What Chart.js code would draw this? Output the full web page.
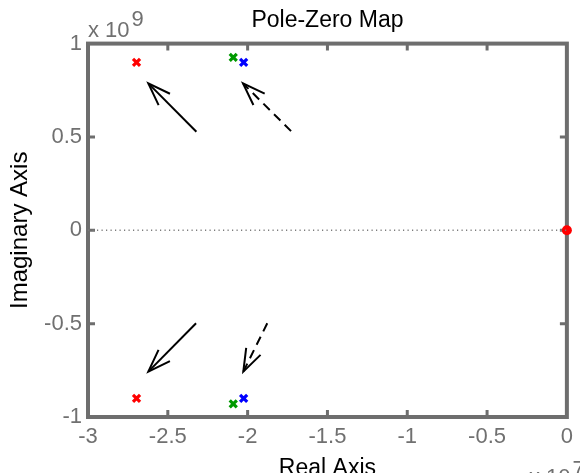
<!DOCTYPE html>
<html>
<head>
<meta charset="utf-8">
<script src="https://cdn.jsdelivr.net/npm/chart.js@4.4.1/dist/chart.umd.min.js"></script>
<style>
  html, body { margin: 0; padding: 0; background: #fff; overflow: hidden; }
  #chart { display: block; }
</style>
</head>
<body>
<canvas id="chart" width="580" height="473"></canvas>
<script>
// axis ticks (real axis in 1e7, imaginary axis in 1e9)
const xTickLabels = ['-3', '-2.5', '-2', '-1.5', '-1', '-0.5', '0'];
const yTickLabels = ['-1', '-0.5', '0', '0.5', '1'];
const xExponent = '7';
const yExponent = '9';

// poles: real and imaginary parts
const redPolesRe = [-2.696e7, -2.696e7];
const redPolesIm = [0.899e9, -0.900e9];
const bluePolesRe = [-2.025e7, -2.025e7];
const bluePolesIm = [0.899e9, -0.900e9];
const greenPolesRe = [-2.090e7, -2.090e7];
const greenPolesIm = [0.926e9, -0.930e9];

// zeros
const zerosRe = [0];
const zerosIm = [0];

// dotted line on the real axis
const realLineRe = [-3e7, 0];
const realLineIm = [0, 0];

// arrows, tail then tip
const arrowUpSolidRe = [-2.321e7, -2.622e7];
const arrowUpSolidIm = [0.528e9, 0.787e9];
const arrowUpDashRe = [-1.728e7, -2.029e7];
const arrowUpDashIm = [0.531e9, 0.787e9];
const arrowDownSolidRe = [-2.323e7, -2.622e7];
const arrowDownSolidIm = [-0.498e9, -0.757e9];
const arrowDownDashRe = [-1.877e7, -2.027e7];
const arrowDownDashIm = [-0.498e9, -0.757e9];

const FONT = 'Liberation Sans, Arial, sans-serif';
const GRAY = '#6e6e6e';
const LABEL_GRAY = '#707070';

function pts(re, im) {
    return re.map(function (x, i) { return {x: x, y: im[i]}; });
}

function poleSet(re, im, color) {
    return {
        data: pts(re, im),
        pointStyle: 'crossRot',
        pointRadius: 5,
        pointBorderWidth: 3.2,
        borderColor: color,
        backgroundColor: color,
        showLine: false,
        clip: false
    };
}

function arrowSet(re, im, dashed) {
    return {
        data: pts(re, im),
        showLine: true,
        pointRadius: 0,
        borderColor: '#000',
        borderWidth: 2,
        borderDash: dashed ? [9, 6] : [],
        arrow: true
    };
}

const framePlugin = {
    id: 'frame',
    beforeDatasetsDraw(chart) {
        const ctx = chart.ctx;
        const a = chart.chartArea;
        const xs = chart.scales.x, ys = chart.scales.y;
        ctx.save();
        ctx.strokeStyle = GRAY;
        ctx.lineWidth = 3;
        ctx.beginPath();
        xs.ticks.forEach(function (t) {
            const px = xs.getPixelForValue(t.value);
            if (px <= a.left + 2 || px >= a.right - 2) return;
            ctx.moveTo(px, a.bottom); ctx.lineTo(px, a.bottom - 7);
            ctx.moveTo(px, a.top); ctx.lineTo(px, a.top + 7);
        });
        ys.ticks.forEach(function (t) {
            const py = ys.getPixelForValue(t.value);
            if (py <= a.top + 2 || py >= a.bottom - 2) return;
            ctx.moveTo(a.left, py); ctx.lineTo(a.left + 7, py);
            ctx.moveTo(a.right, py); ctx.lineTo(a.right - 7, py);
        });
        ctx.stroke();
        ctx.lineWidth = 4;
        ctx.strokeRect(a.left, a.top, a.right - a.left, a.bottom - a.top);
        ctx.restore();
    },
    afterDatasetsDraw(chart) {
        const ctx = chart.ctx;
        chart.data.datasets.forEach(function (ds, i) {
            if (!ds.arrow) return;
            const p = chart.getDatasetMeta(i).data;
            const tail = p[0], tip = p[p.length - 1];
            const ang = Math.atan2(tail.y - tip.y, tail.x - tip.x);
            const len = 24, spread = 0.34;
            ctx.save();
            ctx.strokeStyle = '#000';
            ctx.lineWidth = 2;
            ctx.beginPath();
            ctx.moveTo(tip.x + len * Math.cos(ang - spread), tip.y + len * Math.sin(ang - spread));
            ctx.lineTo(tip.x, tip.y);
            ctx.lineTo(tip.x + len * Math.cos(ang + spread), tip.y + len * Math.sin(ang + spread));
            ctx.stroke();
            ctx.restore();
        });
    },
    afterDraw(chart) {
        const ctx = chart.ctx;
        const a = chart.chartArea;
        ctx.save();
        ctx.fillStyle = LABEL_GRAY;
        ctx.font = '22px ' + FONT;
        ctx.textBaseline = 'alphabetic';
        ctx.textAlign = 'left';
        // x 10^9 above the imaginary axis
        ctx.fillText('x 10', a.left, 37);
        let w = ctx.measureText('x 10').width;
        ctx.fillText(yExponent, a.left + w + 2, 26);
        // x 10^7 below the real axis, cut by the edge
        ctx.fillText('x 10', 529, 484);
        ctx.fillText(xExponent, 529 + w + 2, 476);
        ctx.restore();
    }
};

const ctx = document.getElementById('chart');
new Chart(ctx, {
    type: 'scatter',
    data: {
        datasets: [
            {
                data: pts(realLineRe, realLineIm),
                showLine: true,
                pointRadius: 0,
                borderColor: '#7c7c7c',
                borderWidth: 1.5,
                borderDash: [1.2, 3.3]
            },
            arrowSet(arrowUpSolidRe, arrowUpSolidIm, false),
            arrowSet(arrowUpDashRe, arrowUpDashIm, true),
            arrowSet(arrowDownSolidRe, arrowDownSolidIm, false),
            arrowSet(arrowDownDashRe, arrowDownDashIm, true),
            poleSet(redPolesRe, redPolesIm, '#ff0000'),
            poleSet(greenPolesRe, greenPolesIm, '#009900'),
            poleSet(bluePolesRe, bluePolesIm, '#0000ff'),
            {
                data: pts(zerosRe, zerosIm),
                pointStyle: 'circle',
                pointRadius: 5,
                pointBorderWidth: 0,
                backgroundColor: '#ff0000',
                borderColor: '#ff0000',
                showLine: false,
                clip: false
            }
        ]
    },
    options: {
        responsive: false,
        animation: false,
        devicePixelRatio: 1,
        layout: { padding: { left: 0, right: 6, top: 0, bottom: 0 } },
        plugins: {
            legend: { display: false },
            tooltip: { enabled: false },
            title: {
                display: true,
                fullSize: false,
                text: 'Pole-Zero Map',
                color: '#000',
                font: { family: FONT, size: 23, weight: 'normal' },
                padding: { top: 7, bottom: 9 }
            }
        },
        scales: {
            x: {
                type: 'linear',
                min: -3e7,
                max: 0,
                afterFit: function (s) { s.height = 56; },
                grid: { display: false, drawTicks: false },
                border: { display: false },
                ticks: {
                    stepSize: 5e6,
                    autoSkip: false,
                    maxRotation: 0,
                    padding: 7,
                    color: LABEL_GRAY,
                    font: { family: FONT, size: 22 },
                    callback: function (v, i) { return xTickLabels[i]; }
                },
                title: {
                    display: true,
                    text: 'Real Axis',
                    color: '#000',
                    font: { family: FONT, size: 23 },
                    padding: { top: 0, bottom: -9 }
                }
            },
            y: {
                type: 'linear',
                min: -1e9,
                max: 1e9,
                afterFit: function (s) { s.width = 88; },
                grid: { display: false, drawTicks: false },
                border: { display: false },
                ticks: {
                    stepSize: 5e8,
                    autoSkip: false,
                    padding: 6,
                    color: LABEL_GRAY,
                    font: { family: FONT, size: 22 },
                    callback: function (v, i) { return yTickLabels[i]; }
                },
                title: {
                    display: true,
                    text: 'Imaginary Axis',
                    color: '#000',
                    font: { family: FONT, size: 24 },
                    padding: { top: 6, bottom: 0 }
                }
            }
        }
    },
    plugins: [framePlugin]
});
</script>
</body>
</html>
